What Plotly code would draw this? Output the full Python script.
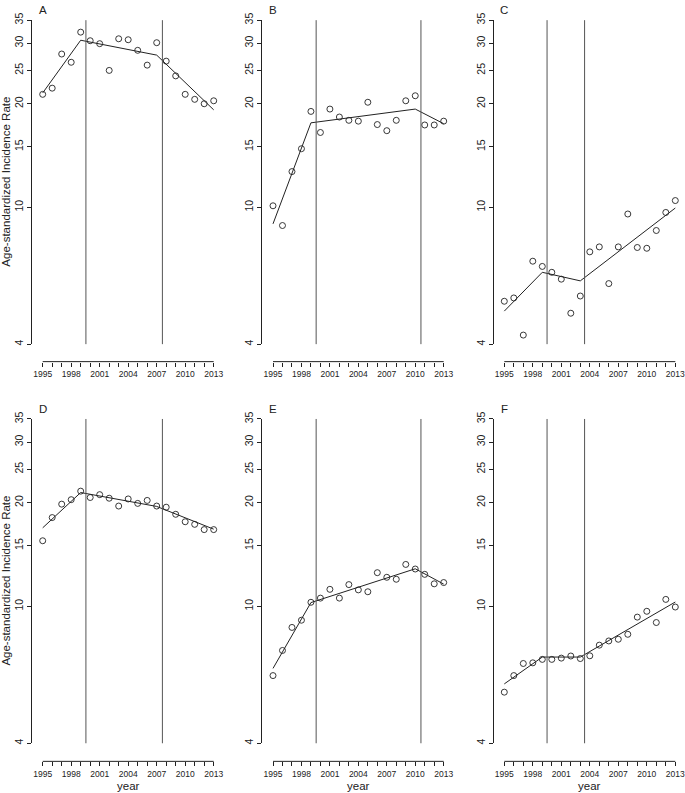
import math
import plotly.graph_objects as go

W, H = 685, 793

years = list(range(1995, 2014))

a_obs = [21.3, 22.2, 27.9, 26.4, 32.3, 30.5, 29.9, 25.0, 30.9, 30.7, 28.6, 25.9, 30.1, 26.6, 24.1, 21.3, 20.6, 20.0, 20.4]
b_obs = [10.1, 8.85, 12.7, 14.8, 19.0, 16.5, 19.3, 18.3, 17.9, 17.8, 20.2, 17.4, 16.7, 17.9, 20.4, 21.1, 17.35, 17.35, 17.8]
c_obs = [5.33, 5.45, 4.25, 6.97, 6.73, 6.47, 6.18, 4.92, 5.52, 7.42, 7.67, 6.0, 7.67, 9.56, 7.64, 7.60, 8.56, 9.66, 10.46]
d_obs = [15.5, 18.1, 19.8, 20.4, 21.6, 20.7, 21.1, 20.6, 19.55, 20.5, 19.9, 20.3, 19.55, 19.4, 18.5, 17.6, 17.3, 16.7, 16.7]
e_obs = [6.29, 7.44, 8.68, 9.11, 10.27, 10.56, 11.2, 10.56, 11.56, 11.16, 11.02, 12.52, 12.14, 11.98, 13.23, 12.83, 12.38, 11.62, 11.72]
f_obs = [5.63, 6.29, 6.82, 6.85, 7.01, 7.01, 7.07, 7.17, 7.05, 7.18, 7.71, 7.93, 8.02, 8.29, 9.30, 9.67, 8.97, 10.47, 9.95]

# joinpoint fits
a_fit_years = [1995, 1999, 2007, 2013]
a_fit = [21.5, 30.6, 27.7, 19.2]
b_fit_years = [1995, 1999, 2010, 2013]
b_fit = [8.95, 17.6, 19.3, 17.5]
c_fit_years = [1995, 1999, 2003, 2013]
c_fit = [4.99, 6.47, 6.11, 9.95]
d_fit_years = [1995, 1999, 2007, 2013]
d_fit = [16.9, 21.4, 19.5, 16.75]
e_fit_years = [1995, 1999, 2010, 2013]
e_fit = [6.6, 10.25, 12.85, 11.6]
f_fit_years = [1995, 1999, 2003, 2013]
f_fit = [5.95, 7.12, 7.12, 10.29]

# vertical reference lines
a_vlines = [1999.55, 2007.6]
b_vlines = [1999.55, 2010.6]
c_vlines = [1999.5, 2003.45]
d_vlines = [1999.55, 2007.6]
e_vlines = [1999.55, 2010.6]
f_vlines = [1999.5, 2003.45]

labels = ['A', 'B', 'C', 'D', 'E', 'F']
y_ticks = [4, 10, 15, 20, 25, 30, 35]
x_ticktext = [str(y) if (y - 1995) % 3 == 0 else '' for y in years]
y_title = 'Age-standardized Incidence Rate'

panels = [
    (a_obs, a_fit_years, a_fit, a_vlines),
    (b_obs, b_fit_years, b_fit, b_vlines),
    (c_obs, c_fit_years, c_fit, c_vlines),
    (d_obs, d_fit_years, d_fit, d_vlines),
    (e_obs, e_fit_years, e_fit, e_vlines),
    (f_obs, f_fit_years, f_fit, f_vlines),
]

# pixel layout: (left, x of 1995, x of 2013, right) per column
cols = [(32, 42.7, 213.7, 225), (262, 273, 443.7, 455), (493.7, 504.3, 675.3, 685)]
# (top, bottom, x-axis line) per row
rows = [(12.3, 340, 357.7), (415.7, 743.7, 762)]

FONT = 'Liberation Sans, Arial, sans-serif'
INK = '#222222'


def px(x):
    return x / W


def py(y):
    return 1 - y / H


fig = go.Figure()
shapes = []
annotations = []

for i, (obs, fyrs, fit, vl) in enumerate(panels):
    n = i + 1
    r, c = divmod(i, 3)
    L, x0, x1, R = cols[c]
    top, bot, axy = rows[r]
    ppy = (x1 - x0) / (years[-1] - years[0])
    xr = [years[0] - (x0 - L) / ppy, years[-1] + (R - x1) / ppy]
    xa = 'x' if n == 1 else 'x%d' % n
    ya = 'y' if n == 1 else 'y%d' % n

    fig.add_trace(go.Scatter(x=fyrs, y=fit, mode='lines', xaxis=xa, yaxis=ya,
                             line=dict(color=INK, width=1), showlegend=False))
    fig.add_trace(go.Scatter(x=years, y=obs, mode='markers', xaxis=xa, yaxis=ya,
                             marker=dict(symbol='circle-open', size=6, color=INK,
                                         line=dict(width=0.9, color=INK)),
                             showlegend=False))

    for v in vl:
        shapes.append(dict(type='line', xref=xa, yref=ya + ' domain', x0=v, x1=v, y0=0, y1=1,
                           line=dict(color='#555555', width=1)))
    # R-style x axis line only between first and last tick
    shapes.append(dict(type='line', xref=xa, yref='paper', x0=years[0], x1=years[-1],
                       y0=py(axy), y1=py(axy), line=dict(color=INK, width=1)))

    fig.layout['xaxis' if n == 1 else 'xaxis%d' % n] = dict(
        domain=[px(L), min(px(R), 1)], range=xr, anchor='free', position=py(axy),
        showgrid=False, zeroline=False, showline=False,
        tickvals=years, ticktext=x_ticktext, ticks='outside', ticklen=4,
        tickcolor=INK, tickwidth=1, tickangle=0, ticklabeloverflow='allow',
        tickfont=dict(family=FONT, size=8.5, color=INK))
    fig.layout['yaxis' if n == 1 else 'yaxis%d' % n] = dict(
        domain=[py(bot), py(top)], type='log',
        range=[math.log10(y_ticks[0]), math.log10(y_ticks[-1])],
        anchor=xa, showgrid=False, zeroline=False, showline=True, linecolor=INK, linewidth=1,
        tickvals=y_ticks, ticktext=[str(t) for t in y_ticks], ticks='outside', ticklen=4,
        tickcolor=INK, tickwidth=1, tickangle=-90, ticklabeloverflow='allow',
        tickfont=dict(family=FONT, size=10.5, color=INK))

    annotations.append(dict(text=labels[i], xref=xa, x=years[0], yref='paper',
                            y=py(top - 10), xanchor='center', yanchor='middle',
                            showarrow=False, font=dict(family=FONT, size=11.5, color=INK)))
    if c == 0:
        annotations.append(dict(text=y_title, xref='paper', x=px(6.5), yref='paper',
                                y=py((top + bot) / 2), textangle=-90,
                                xanchor='center', yanchor='middle', showarrow=False,
                                font=dict(family=FONT, size=11.5, color=INK)))
    if r == 1:
        annotations.append(dict(text='year', xref=xa, x=(years[0] + years[-1]) / 2,
                                yref='paper', y=py(786.5), xanchor='center',
                                yanchor='middle', showarrow=False,
                                font=dict(family=FONT, size=11.5, color=INK)))

fig.update_layout(width=W, height=H, margin=dict(l=0, r=0, t=0, b=0),
                  paper_bgcolor='white', plot_bgcolor='white',
                  shapes=shapes, annotations=annotations)

# drop the page's default body margin so the figure fills the window
fig.write_html("out.html", config={'displayModeBar': False},
               post_script="document.body.style.margin = '0';")
